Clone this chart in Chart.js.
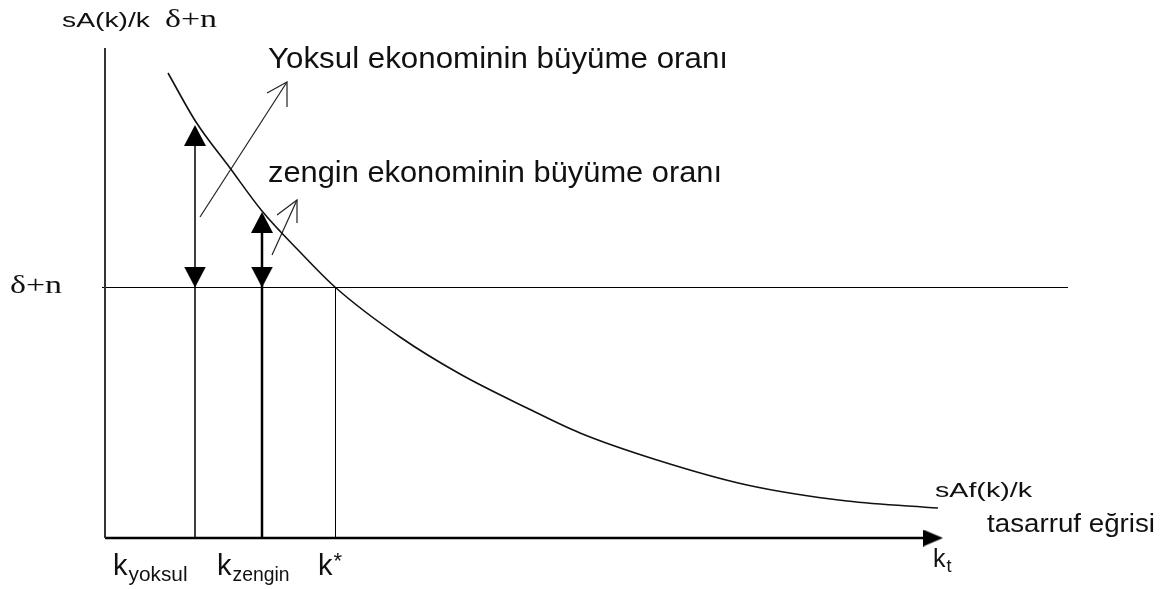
<!DOCTYPE html>
<html>
<head>
<meta charset="utf-8">
<script src="https://cdn.jsdelivr.net/npm/chart.js@4"></script>
<style>
  html, body { margin: 0; padding: 0; background: #fff; }
  canvas { display: block; }
</style>
</head>
<body>
<canvas id="chart" width="1175" height="589"></canvas>
<script>
// --- Data: savings curve sAf(k)/k against k ---
const curveK = [0.63, 0.91, 1.25, 1.57, 1.95, 2.305, 2.95, 3.55, 4.22, 4.75, 5.52, 6.42, 7.42, 8.33];
const curveY = [4.65, 4.16, 3.70, 3.27, 2.86, 2.505, 2.01, 1.64, 1.30, 1.05, 0.78, 0.53, 0.37, 0.30];

const deltaN = 2.505;                 // δ+n level
const deltaNRange = [-0.03, 9.63];
const kYoksul = 0.90, kZengin = 1.57, kStar = 2.305;
const rateYoksul = 4.13, rateZengin = 3.26;
const yAxisTop = 4.90, xAxisEnd = 8.25, xAxisTip = 8.38;

// growth-rate arrows: shaft [start, tip], head [barb, tip, barb]
const arrowYoksulShaft = [[0.95, 3.21], [1.82, 4.56]];
const arrowYoksulHead = [[1.62, 4.45], [1.82, 4.56], [1.82, 4.31]];
const arrowZenginShaft = [[1.67, 2.83], [1.92, 3.38]];
const arrowZenginHead = [[1.72, 3.23], [1.92, 3.38], [1.92, 3.15]];

// --- Text labels ---
const sans = '"Liberation Sans", Arial, sans-serif';
const serif = '"Liberation Serif", "Times New Roman", serif';
const labels = [
  { at: [-0.43, 5.11], parts: [{ text: 'sA(k)/k', size: 21, width: 88 }] },
  { at: [0.60, 5.11], parts: [{ text: 'δ+n', size: 25, family: serif, width: 52 }] },
  { at: [1.63, 4.70], parts: [{ text: 'Yoksul ekonominin büyüme oranı', size: 29, width: 460 }] },
  { at: [1.63, 3.56], parts: [{ text: 'zengin ekonominin büyüme oranı', size: 29, width: 454 }] },
  { at: [-0.95, 2.45], parts: [{ text: 'δ+n', size: 25, family: serif, width: 52 }] },
  { at: [8.30, 0.41], parts: [{ text: 'sAf(k)/k', size: 21, width: 97 }] },
  { at: [8.82, 0.06], parts: [{ text: 'tasarruf eğrisi', size: 26, width: 168 }] },
  { at: [8.28, -0.29], parts: [{ text: 'k', size: 25 }, { text: 't', size: 18, dy: 5 }] },
  { at: [0.08, -0.37], parts: [{ text: 'k', size: 29 }, { text: 'yoksul', size: 21, dy: 6, width: 59 }] },
  { at: [1.12, -0.37], parts: [{ text: 'k', size: 29 }, { text: 'zengin', size: 20, dy: 6, width: 57 }] },
  { at: [2.13, -0.37], parts: [{ text: 'k', size: 29 }, { text: '*', size: 22, dy: -7 }] },
];

// --- Arrowhead images (tip sits on the image centre) ---
function triangleImage(w, h) {
  const c = document.createElement('canvas');
  c.width = w; c.height = h * 2;
  const g = c.getContext('2d');
  g.fillStyle = '#000';
  g.beginPath();
  g.moveTo(w / 2, h);
  g.lineTo(w, h * 2);
  g.lineTo(0, h * 2);
  g.closePath();
  g.fill();
  return c;
}
const markerTri = triangleImage(22, 21);
const axisTri = triangleImage(17, 20);

const pts = arr => arr.map(([x, y]) => ({ x, y }));
function line(data, width, color, extra) {
  return Object.assign({
    data, showLine: true, borderColor: color, borderWidth: width,
    pointRadius: 0, fill: false, tension: 0
  }, extra || {});
}

// text drawn through the scales; labels with a width are stretched to it
const textPlugin = {
  id: 'textLabels',
  afterDatasetsDraw(chart) {
    const { ctx, scales: { x, y } } = chart;
    ctx.save();
    ctx.fillStyle = '#111';
    ctx.textBaseline = 'alphabetic';
    labels.forEach(l => {
      let px = x.getPixelForValue(l.at[0]);
      const py = y.getPixelForValue(l.at[1]);
      l.parts.forEach(p => {
        ctx.font = `${p.size}px ${p.family || sans}`;
        const w = ctx.measureText(p.text).width;
        const sx = p.width ? p.width / w : 1;
        ctx.save();
        ctx.translate(px, py + (p.dy || 0));
        ctx.scale(sx, 1);
        ctx.fillText(p.text, 0, 0);
        ctx.restore();
        px += w * sx + 1;
      });
    });
    ctx.restore();
  }
};

new Chart(document.getElementById('chart'), {
  type: 'scatter',
  data: {
    datasets: [
      line(pts([[0, 0], [0, yAxisTop]]), 2, '#333'),
      line(pts([[0, 0], [xAxisEnd, 0]]), 2.5, '#000'),
      { data: [{ x: xAxisTip, y: 0 }], pointStyle: axisTri, rotation: 90, pointRadius: 5 },
      line(pts([[deltaNRange[0], deltaN], [deltaNRange[1], deltaN]]), 1, '#000'),
      line(pts([[kStar, 0], [kStar, deltaN]]), 1, '#000'),
      line(pts([[kYoksul, 0], [kYoksul, rateYoksul - 0.05]]), 1.5, '#000'),
      line(pts([[kZengin, 0], [kZengin, rateZengin - 0.05]]), 2.5, '#000'),
      line(curveK.map((k, i) => ({ x: k, y: curveY[i] })), 1.6, '#111', { cubicInterpolationMode: 'monotone' }),
      { data: [{ x: kYoksul, y: rateYoksul }, { x: kZengin, y: rateZengin }], pointStyle: markerTri, rotation: 0, pointRadius: 5 },
      { data: [{ x: kYoksul, y: deltaN }, { x: kZengin, y: deltaN }], pointStyle: markerTri, rotation: 180, pointRadius: 5 },
      line(pts(arrowYoksulShaft), 1.2, '#222'),
      line(pts(arrowYoksulHead), 1.2, '#222'),
      line(pts(arrowZenginShaft), 1.2, '#222'),
      line(pts(arrowZenginHead), 1.2, '#222'),
    ]
  },
  options: {
    responsive: false,
    animation: false,
    devicePixelRatio: 1,
    layout: { padding: 0, autoPadding: false },
    plugins: { legend: { display: false }, tooltip: { enabled: false } },
    scales: {
      x: { type: 'linear', min: -1.05, max: 10.70, display: false },
      y: { type: 'linear', min: -0.51, max: 5.38, display: false }
    }
  },
  plugins: [textPlugin]
});
</script>
</body>
</html>
